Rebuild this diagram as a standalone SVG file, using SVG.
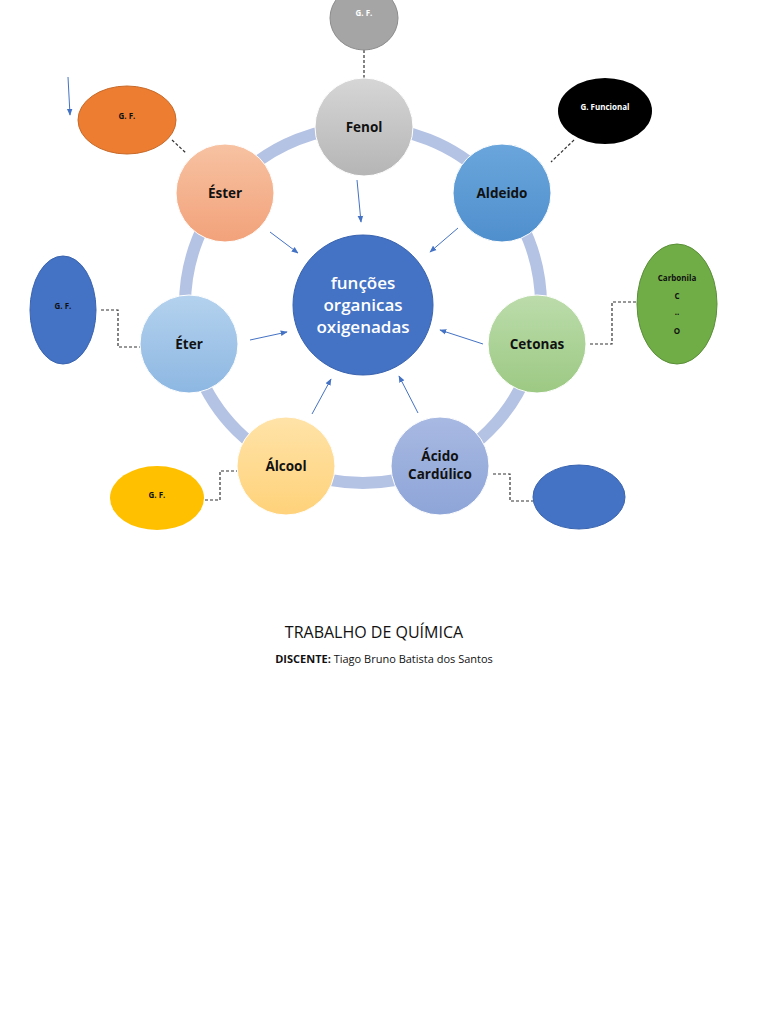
<svg xmlns="http://www.w3.org/2000/svg" width="768" height="1024" viewBox="0 0 768 1024">
<defs>
<style>
.lbl{font-family:"Open Sans","Liberation Sans",sans-serif;font-weight:bold;font-size:13.5px;fill:#111;text-anchor:middle}
.sm{font-family:"Open Sans","Liberation Sans",sans-serif;font-weight:bold;font-size:8px;fill:#111;text-anchor:middle}
.ctr{font-family:"Open Sans","Liberation Sans",sans-serif;font-weight:600;font-size:17px;fill:#fff;text-anchor:middle}
.dash{fill:none;stroke:#333;stroke-width:1.2;stroke-dasharray:3,2}
.arr{stroke:#4472c4;stroke-width:1;marker-end:url(#ah)}
.node{stroke:#fff;stroke-width:1}
</style>
<marker id="ah" viewBox="0 0 10 10" refX="9" refY="5" markerWidth="7" markerHeight="7" orient="auto"><path d="M0,1 L10,5 L0,9 z" fill="#4472c4"/></marker>
<linearGradient id="gFenol" x1="0" y1="0" x2="0" y2="1"><stop offset="0" stop-color="#d6d6d6"/><stop offset="1" stop-color="#b5b5b5"/></linearGradient>
<linearGradient id="gAld" x1="0" y1="0" x2="0" y2="1"><stop offset="0" stop-color="#6aa6dc"/><stop offset="1" stop-color="#4f8fcd"/></linearGradient>
<linearGradient id="gCet" x1="0" y1="0" x2="0" y2="1"><stop offset="0" stop-color="#bcdcab"/><stop offset="1" stop-color="#9cc983"/></linearGradient>
<linearGradient id="gAci" x1="0" y1="0" x2="0" y2="1"><stop offset="0" stop-color="#a8b9e2"/><stop offset="1" stop-color="#8ea5d8"/></linearGradient>
<linearGradient id="gAlc" x1="0" y1="0" x2="0" y2="1"><stop offset="0" stop-color="#ffe3a8"/><stop offset="1" stop-color="#ffd27a"/></linearGradient>
<linearGradient id="gEter" x1="0" y1="0" x2="0" y2="1"><stop offset="0" stop-color="#b4d2ee"/><stop offset="1" stop-color="#8db7e2"/></linearGradient>
<linearGradient id="gEst" x1="0" y1="0" x2="0" y2="1"><stop offset="0" stop-color="#f7c2a2"/><stop offset="1" stop-color="#f2a27a"/></linearGradient>
</defs>
<rect width="768" height="1024" fill="#fff"/>
<circle cx="363" cy="305" r="178" fill="none" stroke="#b4c2e4" stroke-width="12"/>
<g id="connectors">
<line class="dash" x1="364" y1="50" x2="364" y2="78"/>
<line class="dash" x1="172" y1="140" x2="186" y2="153"/>
<line class="dash" x1="574" y1="140" x2="551" y2="162"/>
<polyline class="dash" points="101,310 118,310 118,347 140,347"/>
<polyline class="dash" points="636,302 612,302 612,344 590,344"/>
<polyline class="dash" points="205,500 220,500 220,471 238,471"/>
<polyline class="dash" points="493,474 510,474 510,501 533,501"/>
<line class="arr" x1="68" y1="77" x2="70" y2="115"/>
<line class="arr" x1="357" y1="180" x2="361" y2="222"/>
<line class="arr" x1="458" y1="228" x2="430" y2="252"/>
<line class="arr" x1="483" y1="344" x2="440" y2="330"/>
<line class="arr" x1="418" y1="413" x2="399" y2="376"/>
<line class="arr" x1="312" y1="414" x2="331" y2="379"/>
<line class="arr" x1="250" y1="340" x2="287" y2="332"/>
<line class="arr" x1="270" y1="232" x2="298" y2="253"/>
</g>
<g id="center"><circle cx="363" cy="305" r="70" fill="#4472c4" stroke="#3a64b0" stroke-width="1"/>
<text class="ctr" x="363" y="289">funções</text>
<text class="ctr" x="363" y="311">organicas</text>
<text class="ctr" x="363" y="333">oxigenadas</text></g>
<g id="fenol"><circle class="node" cx="364" cy="127" r="49" fill="url(#gFenol)"/><text class="lbl" x="364" y="132">Fenol</text></g>
<g id="aldeido"><circle class="node" cx="502" cy="193" r="49" fill="url(#gAld)"/><text class="lbl" x="502" y="198">Aldeido</text></g>
<g id="cetonas"><circle class="node" cx="537" cy="344" r="49" fill="url(#gCet)"/><text class="lbl" x="537" y="349">Cetonas</text></g>
<g id="acido"><circle class="node" cx="440" cy="466" r="49" fill="url(#gAci)"/><text class="lbl" x="440" y="461">Ácido</text><text class="lbl" x="440" y="479">Cardúlico</text></g>
<g id="alcool"><circle class="node" cx="286" cy="466" r="49" fill="url(#gAlc)"/><text class="lbl" x="286" y="471">Álcool</text></g>
<g id="eter"><circle class="node" cx="189" cy="344" r="49" fill="url(#gEter)"/><text class="lbl" x="189" y="349">Éter</text></g>
<g id="ester"><circle class="node" cx="225" cy="193" r="49" fill="url(#gEst)"/><text class="lbl" x="225" y="198">Éster</text></g>
<g id="gf-top"><ellipse cx="364" cy="18" rx="34" ry="32" fill="#a5a5a5" stroke="#8c8c8c"/><text class="sm" x="364" y="16" style="fill:#fff">G. F.</text></g>
<g id="gf-orange"><ellipse cx="127" cy="120" rx="49" ry="34" fill="#ed7d31" stroke="#c86a2a"/><text class="sm" x="127" y="119">G. F.</text></g>
<g id="gf-black"><ellipse cx="605" cy="111" rx="47" ry="33" fill="#000"/><text class="sm" x="605" y="110" style="fill:#fff">G. Funcional</text></g>
<g id="gf-blue-left"><ellipse cx="63" cy="310" rx="33" ry="54" fill="#4472c4" stroke="#3a64b0"/><text class="sm" x="63" y="309">G. F.</text></g>
<g id="gf-green"><ellipse cx="677" cy="304" rx="40" ry="60" fill="#70ad47" stroke="#5a8f38"/><text class="sm" x="677" y="281">Carbonila</text><text class="sm" x="677" y="299">C</text><text class="sm" x="677" y="315">..</text><text class="sm" x="677" y="334">O</text></g>
<g id="gf-yellow"><ellipse cx="157" cy="498" rx="47" ry="32" fill="#ffc000"/><text class="sm" x="157" y="498">G. F.</text></g>
<g id="gf-blue-right"><ellipse cx="579" cy="497" rx="46" ry="32" fill="#4472c4" stroke="#3a64b0"/></g>
<text x="374" y="638" font-family="Open Sans,Liberation Sans,sans-serif" font-size="16" fill="#111" text-anchor="middle">TRABALHO DE QUÍMICA</text>
<text x="384" y="663" font-family="Open Sans,Liberation Sans,sans-serif" font-size="11" fill="#111" text-anchor="middle"><tspan font-weight="bold">DISCENTE:</tspan> Tiago Bruno Batista dos Santos</text>
</svg>
